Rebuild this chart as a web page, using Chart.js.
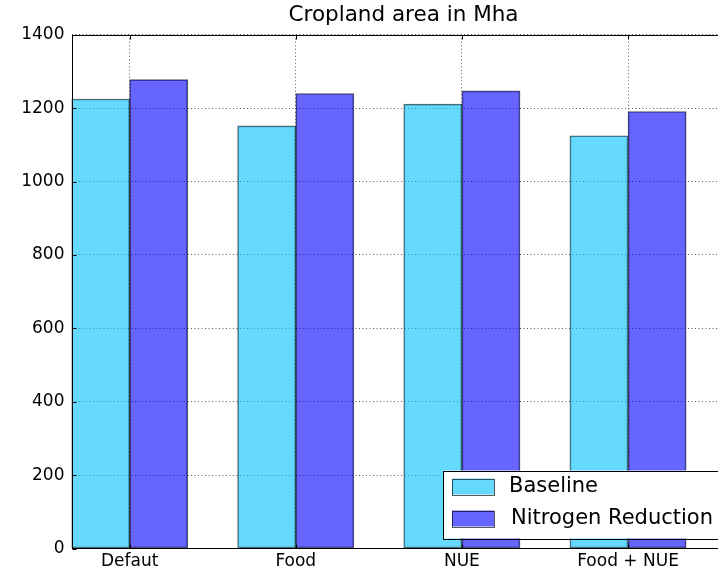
<!DOCTYPE html>
<html>
<head>
<meta charset="utf-8">
<script src="https://cdn.jsdelivr.net/npm/chart.js@4"></script>
<style>
  html, body { margin: 0; padding: 0; background: #fff; overflow: hidden; width: 718px; height: 574px; }
  canvas { display: block; }
</style>
</head>
<body>
<canvas id="chart" width="807" height="574" style="width:807px;height:574px"></canvas>
<script>
// values
const categories = ['Defaut', 'Food', 'NUE', 'Food + NUE'];
const baseline = [1225, 1152, 1211, 1125];
const nitrogen = [1278, 1240, 1247, 1191];
const yTicks = [0, 200, 400, 600, 800, 1000, 1200, 1400];

const barWidth = 0.35; // in x units, like plt.bar(width=0.35)
const font = 'DejaVu Sans';

const cyan = 'rgba(0, 191, 255, 0.6)';
const blue = 'rgba(0, 0, 255, 0.6)';
const edge = 'rgba(0, 0, 0, 0.65)';

// draws the axes frame, inward ticks and the legend box (matplotlib look)
const framePlugin = {
  id: 'frame',
  afterDraw(chart) {
    const ctx = chart.ctx;
    const a = chart.chartArea;
    const x = chart.scales.x, y = chart.scales.y;
    const l = Math.round(a.left) + 0.5, r = Math.round(a.right) - 0.5;
    const t = Math.round(a.top) + 0.5, b = Math.round(a.bottom) - 0.5;
    ctx.save();
    ctx.strokeStyle = '#000';
    ctx.lineWidth = 1;
    ctx.strokeRect(l, t, r - l, b - t);
    ctx.beginPath();
    x.ticks.forEach(tk => {
      const px = Math.round(x.getPixelForValue(tk.value)) + 0.5;
      ctx.moveTo(px, b); ctx.lineTo(px, b - 4);
      ctx.moveTo(px, t); ctx.lineTo(px, t + 4);
    });
    y.ticks.forEach(tk => {
      const py = Math.round(y.getPixelForValue(tk.value)) + 0.5;
      ctx.moveTo(l, py); ctx.lineTo(l + 4, py);
      ctx.moveTo(r, py); ctx.lineTo(r - 4, py);
    });
    ctx.stroke();

    // legend, lower right
    const lr = a.right - 9, lb = a.bottom - 10;
    const lw = 284, lh = 68;
    const lx = lr - lw, ly = lb - lh;
    ctx.fillStyle = '#fff';
    ctx.fillRect(lx, ly, lw, lh);
    ctx.strokeRect(Math.round(lx) + 0.5, Math.round(ly) + 0.5, Math.round(lw), Math.round(lh));
    ctx.font = '21px "' + font + '"';
    ctx.textBaseline = 'middle';
    chart.data.datasets.forEach((ds, i) => {
      const rowY = ly + 8 + i * 32;
      ctx.fillStyle = ds.backgroundColor;
      ctx.fillRect(lx + 9, rowY, 42, 16);
      ctx.strokeStyle = edge;
      ctx.strokeRect(Math.round(lx + 9) + 0.5, Math.round(rowY) + 0.5, 42, 16);
      ctx.fillStyle = '#000';
      ctx.fillText(ds.label, lx + 66 + i * 2, rowY + 8.5);
    });
    ctx.restore();
  }
};

new Chart(document.getElementById('chart'), {
  type: 'bar',
  data: {
    datasets: [{
      label: 'Baseline',
      data: baseline.map((v, i) => ({ x: i + barWidth / 2, y: v })),
      backgroundColor: cyan,
      borderColor: edge,
      borderWidth: 1,
      borderSkipped: false
    }, {
      label: 'Nitrogen Reduction',
      data: nitrogen.map((v, i) => ({ x: i + barWidth * 1.5, y: v })),
      backgroundColor: blue,
      borderColor: edge,
      borderWidth: 1,
      borderSkipped: false
    }]
  },
  options: {
    responsive: false,
    animation: false,
    grouped: false,
    barPercentage: 1,
    categoryPercentage: 1,
    layout: { padding: 0 },
    plugins: {
      legend: { display: false },
      tooltip: { enabled: false },
      title: {
        display: true,
        text: 'Cropland area in Mha',
        color: '#000',
        font: { family: font, size: 21.5, weight: 'normal' },
        padding: { top: 3, bottom: 6 }
      }
    },
    scales: {
      x: {
        type: 'linear',
        min: 0,
        max: categories.length,
        offset: false,
        z: 1,
        afterBuildTicks: s => { s.ticks = categories.map((c, i) => ({ value: i + barWidth })); },
        afterFit: s => { s.height = 25.5; },
        ticks: {
          color: '#000',
          padding: 3,
          maxRotation: 0,
          font: { family: font, size: 17 },
          callback: (v, i) => categories[i]
        },
        grid: { offset: false, color: 'rgba(0,0,0,0.65)', lineWidth: 1, drawTicks: false },
        border: { display: false, dash: [1, 2.5] }
      },
      y: {
        min: 0,
        max: 1400,
        z: 1,
        afterBuildTicks: s => { s.ticks = yTicks.map(v => ({ value: v })); },
        afterFit: s => { s.width = 71.5; },
        ticks: {
          color: '#000',
          padding: 7,
          font: { family: font, size: 17 },
          callback: v => String(v)
        },
        grid: { color: 'rgba(0,0,0,0.65)', lineWidth: 1, drawTicks: false },
        border: { display: false, dash: [1, 2.5] }
      },
      y2: {
        position: 'right',
        display: true,
        afterFit: s => { s.width = 71; },
        ticks: { display: false },
        grid: { display: false },
        border: { display: false }
      }
    }
  },
  plugins: [framePlugin]
});
</script>
</body>
</html>
